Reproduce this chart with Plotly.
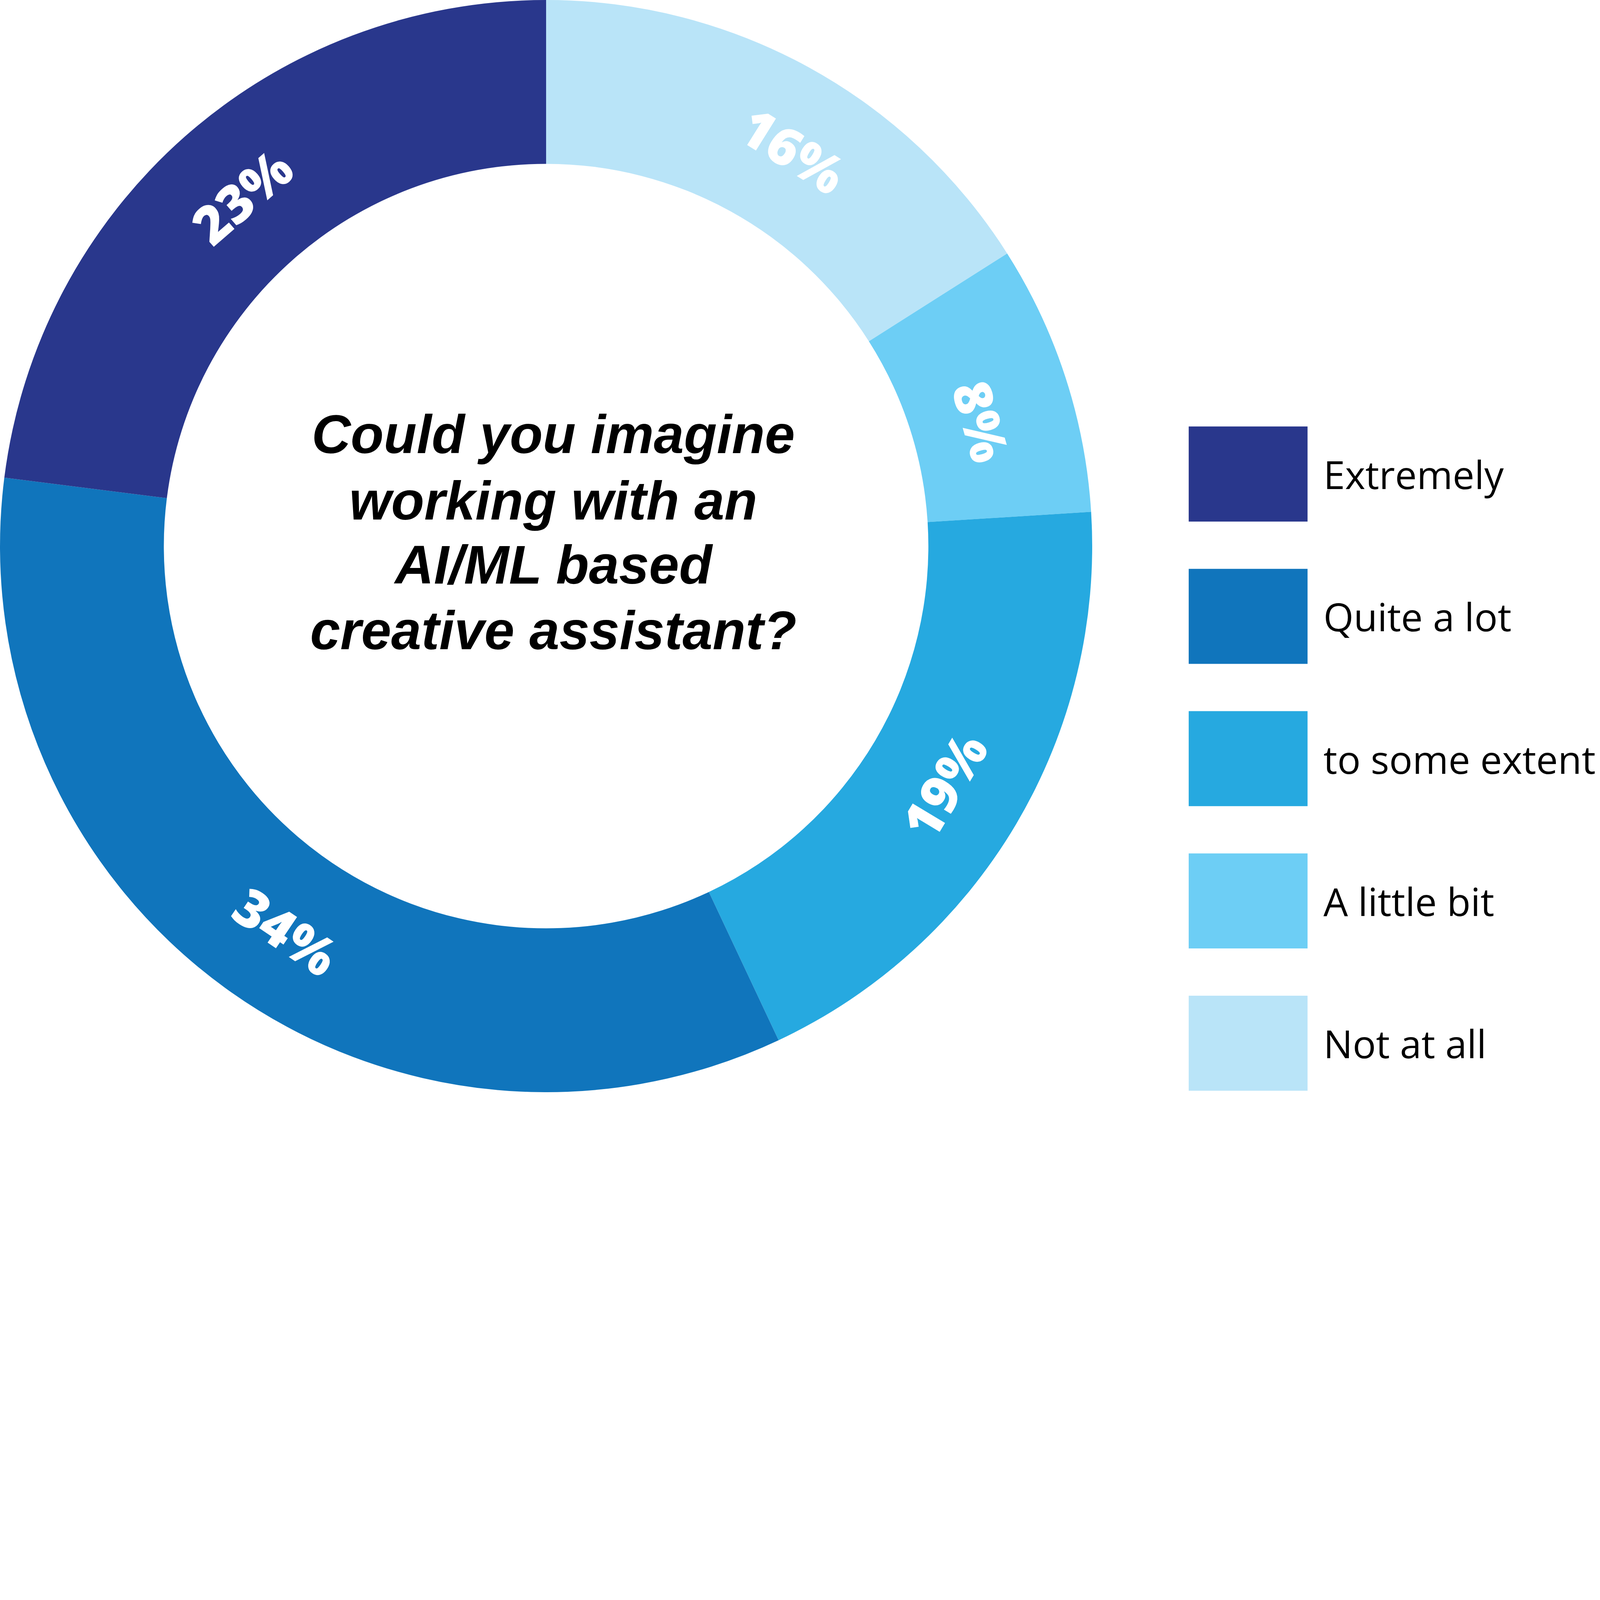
import math
import plotly.graph_objects as go

# ---- data ----
CATEGORIES = ["Not at all", "A little bit", "to some extent", "Quite a lot", "Extremely"]
VALUES = [16, 8, 19, 34, 23]
COLORS = ["#B9E4F8", "#6DCEF5", "#26A9E0", "#1075BC", "#29378C"]
LEGEND_ORDER = ["Extremely", "Quite a lot", "to some extent", "A little bit", "Not at all"]
QUESTION_LINES = ["Could you imagine", "working with an", "AI/ML based", "creative assistant?"]
# angular position (deg clockwise from 12 o'clock) and radius (fraction) of each % label
LABEL_ANGLES = [32, 74, 121, 214, 319]
LABEL_RADII = [0.855, 0.83, 0.85, 0.85, 0.85]

W, H = 6516, 4448
R = H / 2.0
CX, CY = R, R  # pie centre in px (from top-left)

fig = go.Figure()
fig.add_trace(go.Pie(
    labels=CATEGORIES, values=VALUES, sort=False, direction="clockwise", rotation=0,
    hole=0.70, marker=dict(colors=COLORS, line=dict(width=0)),
    textinfo="none", showlegend=False, hoverinfo="label+percent",
    domain=dict(x=[0, H / W], y=[0, 1]),
))

ann = []
total = sum(VALUES)
for v, th, rf in zip(VALUES, LABEL_ANGLES, LABEL_RADII):
    t = math.radians(th)
    px = CX + rf * R * math.sin(t)
    py = CY - rf * R * math.cos(t)
    ang = th if (th < 90 or th > 270) else th - 180
    if ang > 180:
        ang -= 360
    ann.append(dict(
        x=px / W, y=1 - py / H, xref="paper", yref="paper", showarrow=False,
        text=f"{round(100 * v / total)}%", textangle=ang,
        font=dict(family="Open Sans", size=215, color="white", weight=800),
        xanchor="center", yanchor="middle",
    ))

# question in the hole
baselines = [1849, 2120, 2381, 2647]
for line, b in zip(QUESTION_LINES, baselines):
    ann.append(dict(
        x=2254 / W, y=1 - (b - 80) / H, xref="paper", yref="paper", showarrow=False,
        text=f"<b><i>{line}</i></b>", xanchor="center", yanchor="middle",
        font=dict(family="Liberation Sans", size=220, color="black",
                  weight="bold", style="italic"),
    ))

# legend
shapes = []
box_x0, box_x1 = 4841, 5325
box_top0, box_h, step = 1737, 387, 579.5
for i, name in enumerate(LEGEND_ORDER):
    col = COLORS[CATEGORIES.index(name)]
    y0 = box_top0 + i * step
    y1 = y0 + box_h
    shapes.append(dict(type="rect", xref="paper", yref="paper",
                       x0=box_x0 / W, x1=box_x1 / W, y0=1 - y1 / H, y1=1 - y0 / H,
                       fillcolor=col, line=dict(width=0)))
    ann.append(dict(
        x=5386 / W, y=1 - (y0 + box_h / 2) / H, xref="paper", yref="paper",
        showarrow=False, text=name, xanchor="left", yanchor="middle",
        font=dict(family="Open Sans", size=158, color="black"),
    ))

fig.update_layout(
    width=W, height=H, margin=dict(l=0, r=0, t=0, b=0),
    paper_bgcolor="white", plot_bgcolor="white",
    annotations=ann, shapes=shapes, showlegend=False,
)

# fit the fixed 6516x4448 design into whatever CSS viewport the browser really has
post = """
var gd = document.getElementById('{plot_id}');
document.body.style.margin = '0';
document.body.style.overflow = 'hidden';
var W0 = %d, H0 = %d;
var s = Math.min(window.innerWidth / W0, window.innerHeight / H0);
if (Math.abs(s - 1) > 1e-3) {
  var anns = (gd.layout.annotations || []).map(function(a) {
    var b = JSON.parse(JSON.stringify(a));
    b.font.size = a.font.size * s;
    return b;
  });
  Plotly.relayout(gd, {width: W0 * s, height: H0 * s, annotations: anns});
}
""" % (W, H)

fig.write_html("out.html", post_script=post, config={"displayModeBar": False})
